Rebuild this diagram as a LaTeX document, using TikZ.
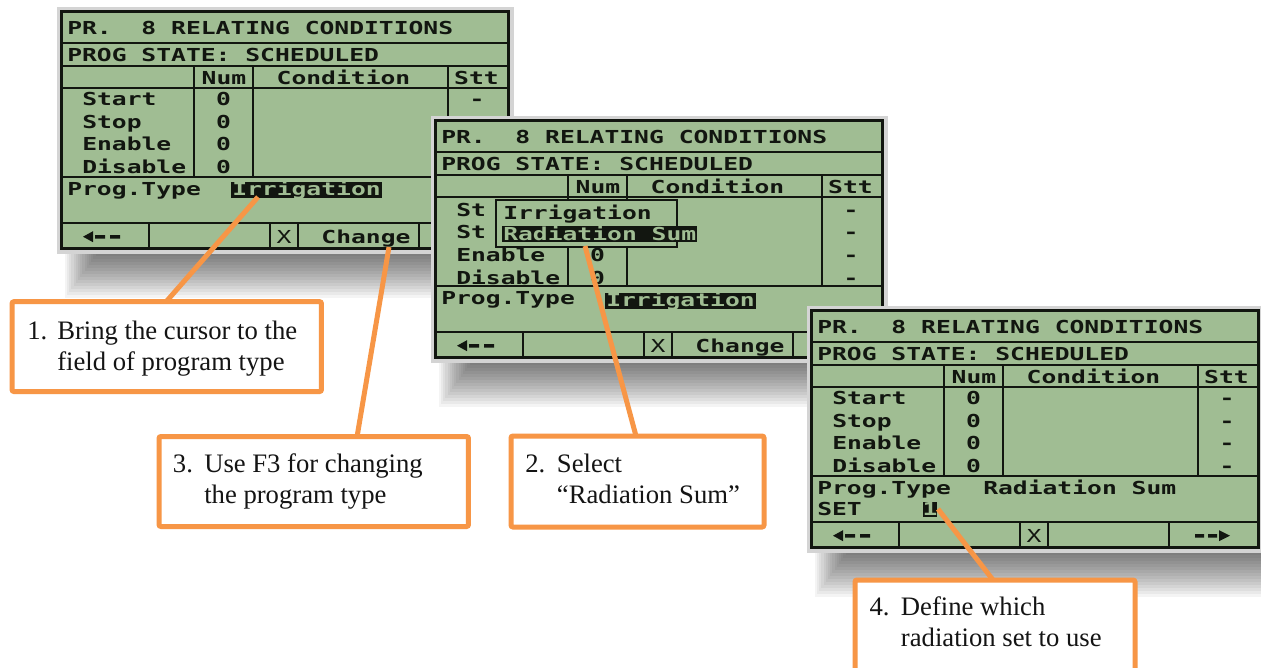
\documentclass[tikz,border=0pt]{standalone}
\usepackage{fontspec}
\setmainfont{Liberation Serif}
\newfontfamily\lcdfont[FakeStretch=1.38]{DejaVu Sans Mono}

\definecolor{lcdgreen}{RGB}{160,189,147}
\definecolor{lcdink}{RGB}{18,22,16}
\definecolor{bevel}{RGB}{212,212,212}
\definecolor{stepcol}{RGB}{247,150,70}

\tikzset{
  lcd/.style={anchor=base west, inner sep=0pt, text=lcdink,
    font=\fontsize{13.4}{14}\lcdfont\bfseries\frenchspacing},
  lcdc/.style={lcd, anchor=base},
  lcdthin/.style={lcdc, font=\fontsize{13.4}{14}\lcdfont\frenchspacing},
  inv/.style={text=lcdgreen},
  gridline/.style={draw=lcdink, line width=1.1pt},
  frameline/.style={draw=lcdink, line width=2.6pt},
  callout/.style={draw=stepcol, line width=3.75pt, fill=white,
    rounded corners=1.5pt, inner sep=0pt},
  link/.style={draw=stepcol, line width=3.75pt},
  note/.style={anchor=base west, inner sep=0pt, text=black!92,
    font=\fontsize{20}{24}\selectfont},
}

% Panel of the controller display: shadow, bezel, grid and fixed captions
\newcommand\lcdbody{%
  \foreach \i in {1,...,16}
    \fill[black, opacity=0.045] ({40-2.2*\i},236) rectangle ({451+0.7*\i},{240+3*\i});
  \fill[bevel] (-3.5,-3.5) rectangle (453.5,243.5);
  \fill[lcdgreen] (0,0) rectangle (450,240);
  \draw[gridline] (0,33) -- (450,33) (0,56) -- (450,56) (0,78) -- (450,78)
                  (0,167) -- (450,167) (0,213) -- (450,213);
  \draw[gridline] (134,56) -- (134,167) (193,56) -- (193,167) (388,56) -- (388,167);
  \draw[gridline] (89,213) -- (89,240) (210,213) -- (210,240)
                  (238,213) -- (238,240) (359,213) -- (359,240);
  \draw[frameline] (1.3,1.3) rectangle (448.7,238.7);
  \node[lcd] (title) at (7,24.5) {PR.~~8 RELATING CONDITIONS};
  \node[lcd] (state) at (7,51.5) {PROG STATE: SCHEDULED};
  \node[lcdc] (hnum) at (164,74.5) {Num};
  \node[lcdc] (hcond) at (283.5,74.5) {Condition};
  \node[lcdc] (hstt) at (416.5,74.5) {Stt};
  \node[lcd] (ptype) at (7,185.5) {Prog.Type};
  \fill[lcdink] (23,226.7) -- (33,221.2) -- (33,232.2) -- cycle;
  \fill[lcdink] (35,225) rectangle (45,228.5) (50,225) rectangle (60,228.5);
  \node[lcdthin] (xkey) at (224,233.5) {X};
}

\begin{document}
\begin{tikzpicture}[x=0.75pt,y=-0.75pt]
\fill[white] (0,0) rectangle (1261,668);
\useasboundingbox (0,0) rectangle (1261,668);

% first display: cursor on the program type field
\begin{scope}[shift={(60,10)}, name prefix=s1-]
  \lcdbody
  \node[lcd] (start) at (22,95.5) {Start};
  \node[lcd] (stop) at (22,118) {Stop};
  \node[lcd] (enable) at (22,140.5) {Enable};
  \node[lcd] (disable) at (22,163) {Disable};
  \node[lcdc] (n1) at (163.5,95.5) {0};
  \node[lcdc] (n2) at (163.5,118) {0};
  \node[lcdc] (n3) at (163.5,140.5) {0};
  \node[lcdc] (n4) at (163.5,163) {0};
  \node[lcdc] (st1) at (417,95.5) {-};
  \fill[lcdink] (171,172) rectangle (322,188);
  \node[lcd, inv] (irr) at (172,185.5) {Irrigation};
  \node[lcdc] (change) at (306,233.5) {Change};
\end{scope}

% second display: list of program types opened
\begin{scope}[shift={(434,119)}, name prefix=s2-]
  \lcdbody
  \node[lcd] (start) at (22,97) {St};
  \node[lcd] (stop) at (22,119.5) {St};
  \node[lcd] (enable) at (22,142.5) {Enable};
  \node[lcd] (disable) at (22,165) {Disable};
  \node[lcdc] (n3) at (163.5,142.5) {0};
  \node[lcdc] (n4) at (163.5,165) {0};
  \node[lcdc] (st1) at (417,97) {-};
  \node[lcdc] (st2) at (417,119.5) {-};
  \node[lcdc] (st3) at (417,142.5) {-};
  \node[lcdc] (st4) at (417,165) {-};
  \draw[gridline, fill=lcdgreen] (62,81) rectangle (243,128);
  \node[lcd] (opt1) at (69,100) {Irrigation};
  \fill[lcdink] (68,107) rectangle (263,123);
  \node[lcd, inv] (opt2) at (69,121.5) {Radiation Sum};
  \fill[lcdink] (171,174) rectangle (322,190);
  \node[lcd, inv] (irr) at (172,187.5) {Irrigation};
  \node[lcdc] (change) at (306,233.5) {Change};
\end{scope}

% third display: radiation sum chosen, set number to enter
\begin{scope}[shift={(810,309)}, name prefix=s3-]
  \lcdbody
  \node[lcd] (start) at (22,95.5) {Start};
  \node[lcd] (stop) at (22,118) {Stop};
  \node[lcd] (enable) at (22,140.5) {Enable};
  \node[lcd] (disable) at (22,163) {Disable};
  \node[lcdc] (n1) at (163.5,95.5) {0};
  \node[lcdc] (n2) at (163.5,118) {0};
  \node[lcdc] (n3) at (163.5,140.5) {0};
  \node[lcdc] (n4) at (163.5,163) {0};
  \node[lcdc] (st1) at (417,95.5) {-};
  \node[lcdc] (st2) at (417,118) {-};
  \node[lcdc] (st3) at (417,140.5) {-};
  \node[lcdc] (st4) at (417,163) {-};
  \node[lcd] (rad) at (173,185.5) {Radiation Sum};
  \node[lcd] (set) at (7,206.5) {SET};
  \fill[lcdink] (113,193) rectangle (127,208);
  \node[lcdc, inv] (setno) at (120,206.5) {1};
  \fill[lcdink] (385,225) rectangle (394,228.5) (398,225) rectangle (407,228.5);
  \fill[lcdink] (409,221.2) -- (420,226.7) -- (409,232.2) -- cycle;
\end{scope}

% leader lines from the callouts to the display fields
\coordinate (p1) at (258,197);
\coordinate (q1) at (165,303);
\coordinate (p3) at (389,247);
\coordinate (q3) at (357,437);
\coordinate (p2) at (585,246);
\coordinate (q2) at (636,436);
\coordinate (p4) at (938,509);
\coordinate (q4) at (993,580);
\draw[link] (p1) -- (q1);
\draw[link] (p3) -- (q3);
\draw[link] (p2) -- (q2);
\draw[link] (p4) -- (q4);

% numbered instruction callouts
\node[callout, minimum width=232.1pt, minimum height=67.4pt] (box1) at (166.75,346.6) {};
\node[note] (b1n) at (27,339.5) {1.};
\node[note] (b1a) at (57,339.5) {Bring the cursor to the};
\node[note] (b1b) at (57,370) {field of program type};

\node[callout, minimum width=232.1pt, minimum height=67.5pt] (box3) at (313.75,481.5) {};
\node[note] (b3n) at (172.7,472.5) {3.};
\node[note] (b3a) at (204,472.5) {Use F3 for changing};
\node[note] (b3b) at (204,503) {the program type};

\node[callout, minimum width=189.75pt, minimum height=68.25pt] (box2) at (637.5,481.5) {};
\node[note] (b2n) at (525,472) {2.};
\node[note] (b2a) at (556.7,472) {Select};
\node[note] (b2b) at (556.7,503) {“Radiation Sum”};

\node[callout, minimum width=210pt, minimum height=105pt] (box4) at (995,650) {};
\node[note] (b4n) at (869.3,615) {4.};
\node[note] (b4a) at (900.7,615) {Define which};
\node[note] (b4b) at (900.7,646) {radiation set to use};
\end{tikzpicture}
\end{document}
